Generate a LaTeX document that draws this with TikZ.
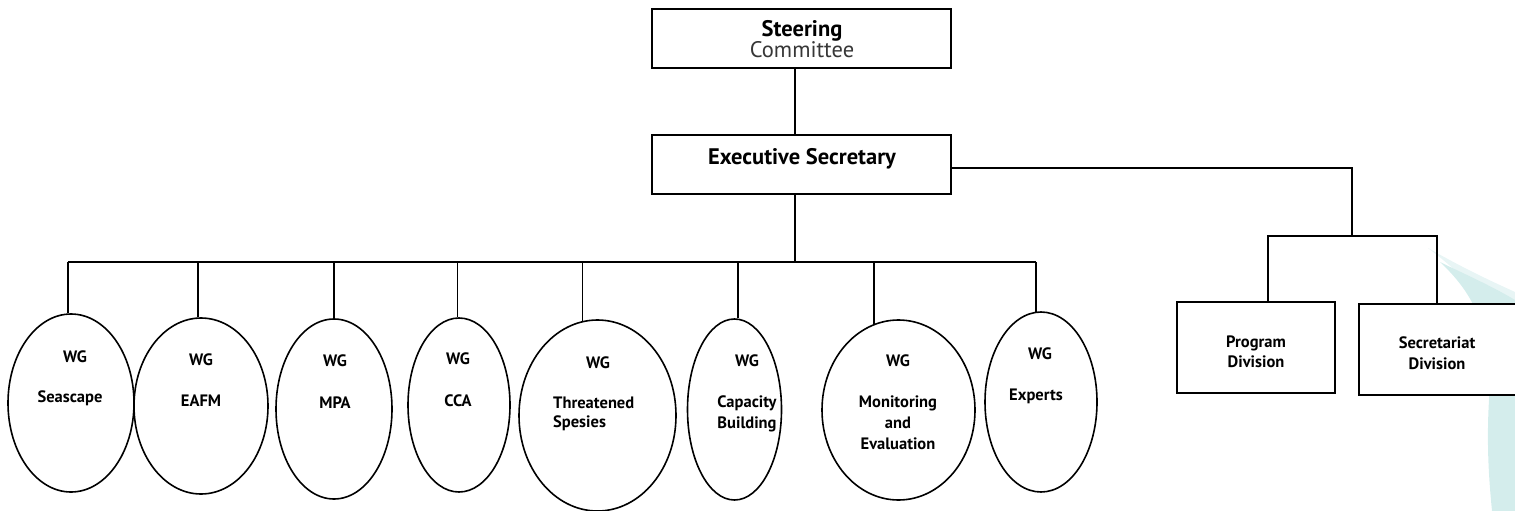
\documentclass[tikz,border=0pt]{standalone}
\usepackage{fontspec}
\setmainfont{PT Sans}
\usetikzlibrary{shapes.geometric}
\definecolor{wmark}{RGB}{212,237,236}
\definecolor{wmarkl}{RGB}{232,245,245}
\definecolor{grayt}{RGB}{55,55,55}
\begin{document}
\begin{tikzpicture}[x=1pt,y=-1pt,
  box/.style={draw,line width=1.7pt,rectangle,inner sep=0pt},
  wg/.style={draw,ellipse,line width=1.6pt,inner sep=0pt},
  conn/.style={line width=1.8pt},
  lbl/.style={font=\bfseries\fontsize{16.5}{19}\selectfont,inner sep=0pt,text height=12pt,text depth=3pt},
  big/.style={font=\bfseries\fontsize{22.5}{26}\selectfont,inner sep=0pt,text height=16pt,text depth=4pt},
]
\useasboundingbox (0,0) rectangle (1515,511);
% watermark crescent
\fill[wmarkl] (1428,248) .. controls (1470,272) and (1500,285) .. (1515,292) -- (1515,330)
  .. controls (1495,310) and (1470,280) .. cycle;
\fill[wmark] (1440,262) .. controls (1475,295) and (1492,330) .. (1489,400)
  .. controls (1486,450) and (1490,490) .. (1492,511) -- (1515,511) -- (1515,300)
  .. controls (1490,285) and (1460,272) .. cycle;

% coordinates
\coordinate (trunk) at (795,0);
\coordinate (bus) at (0,262);
\coordinate (rb) at (1352,236);
\coordinate (ry) at (0,168);
\coordinate (pdx) at (1268,0);
\coordinate (sdx) at (1437,0);

% top boxes
\node[box,fill=white,minimum width=299pt,minimum height=59pt] (sc) at (801.5,38.5) {};
\node[box,fill=white,minimum width=299pt,minimum height=59pt] (ex) at (801.5,164.5) {};
\node[big] (sct1) at (802,31) {Steering};
\node[big,font=\fontsize{22.5}{26}\selectfont,text=grayt] (sct2) at (802,52) {Committee};
\node[big] (ext) at (802,158) {Executive Secretary};

% division boxes
\node[box,fill=white,minimum width=158pt,minimum height=91pt] (pd) at (1256,347.5) {};
\node[box,fill=white,minimum width=171pt,minimum height=91pt] (sd) at (1444.5,349.5) {};
\node[lbl] (pdt1) at (1256,343) {Program};
\node[lbl] (pdt2) at (1256,363) {Division};
\node[lbl] (sdt1) at (1437,344) {Secretariat};
\node[lbl] (sdt2) at (1437,365) {Division};

% ellipses
\node[wg,minimum width=126pt,minimum height=178pt] (e1) at (71,403) {};
\node[wg,minimum width=134pt,minimum height=176pt] (e2) at (201,406) {};
\node[wg,minimum width=116pt,minimum height=180pt] (e3) at (334,409) {};
\node[wg,minimum width=102pt,minimum height=174pt] (e4) at (459,405) {};
\node[wg,minimum width=157pt,minimum height=191pt] (e5) at (597.5,415.5) {};
\node[wg,minimum width=94pt,minimum height=181pt] (e6) at (734.5,409.5) {};
\node[wg,minimum width=153pt,minimum height=180pt] (e7) at (898.5,410) {};
\node[wg,minimum width=112pt,minimum height=180pt] (e8) at (1041,402) {};

% ellipse labels
\node[lbl] (w1) at (75,358) {WG};
\node[lbl] (n1) at (70,398) {Seascape};
\node[lbl] (w2) at (201,361) {WG};
\node[lbl] (n2) at (201,402) {EAFM};
\node[lbl] (w3) at (335,362) {WG};
\node[lbl] (n3) at (335,404) {MPA};
\node[lbl] (w4) at (458,360) {WG};
\node[lbl] (n4) at (458,402) {CCA};
\node[lbl] (w5) at (598,364) {WG};
\node[lbl,anchor=west] (n5a) at (553,404) {Threatened};
\node[lbl,anchor=west] (n5b) at (553,423) {Spesies};
\node[lbl] (w6) at (747,362) {WG};
\node[lbl] (n6a) at (747,403) {Capacity};
\node[lbl] (n6b) at (747,424) {Building};
\node[lbl] (w7) at (898,362) {WG};
\node[lbl] (n7a) at (898,403) {Monitoring};
\node[lbl] (n7b) at (898,424) {and};
\node[lbl] (n7c) at (898,445) {Evaluation};
\node[lbl] (w8) at (1040,355) {WG};
\node[lbl] (n8) at (1036,396) {Experts};

% connectors
\draw[conn] (sc.south -| trunk) -- (ex.north -| trunk);
\draw[conn] (ex.south -| trunk) -- (trunk |- bus);
\draw[conn] (e1.92 |- bus) -- (e8.93 |- bus);
\draw[conn] (e1.92) -- (e1.92 |- bus);
\draw[conn] (e2.92) -- (e2.92 |- bus);
\draw[conn] (e3.north) -- (e3.north |- bus);
\draw[conn] (e4.91) -- (e4.91 |- bus);
\draw[conn] (e5.99) -- (e5.99 |- bus);
\draw[conn] (e6.88) -- (e6.88 |- bus);
\draw[conn] (e7.106) -- (e7.106 |- bus);
\draw[conn] (e8.93) -- (e8.93 |- bus);
\draw[conn] (ex.east |- ry) -| (rb);
\draw[conn] (pd.north -| pdx) -- (pdx |- rb) -- (sdx |- rb) -- (sd.north -| sdx);
\end{tikzpicture}
\end{document}
